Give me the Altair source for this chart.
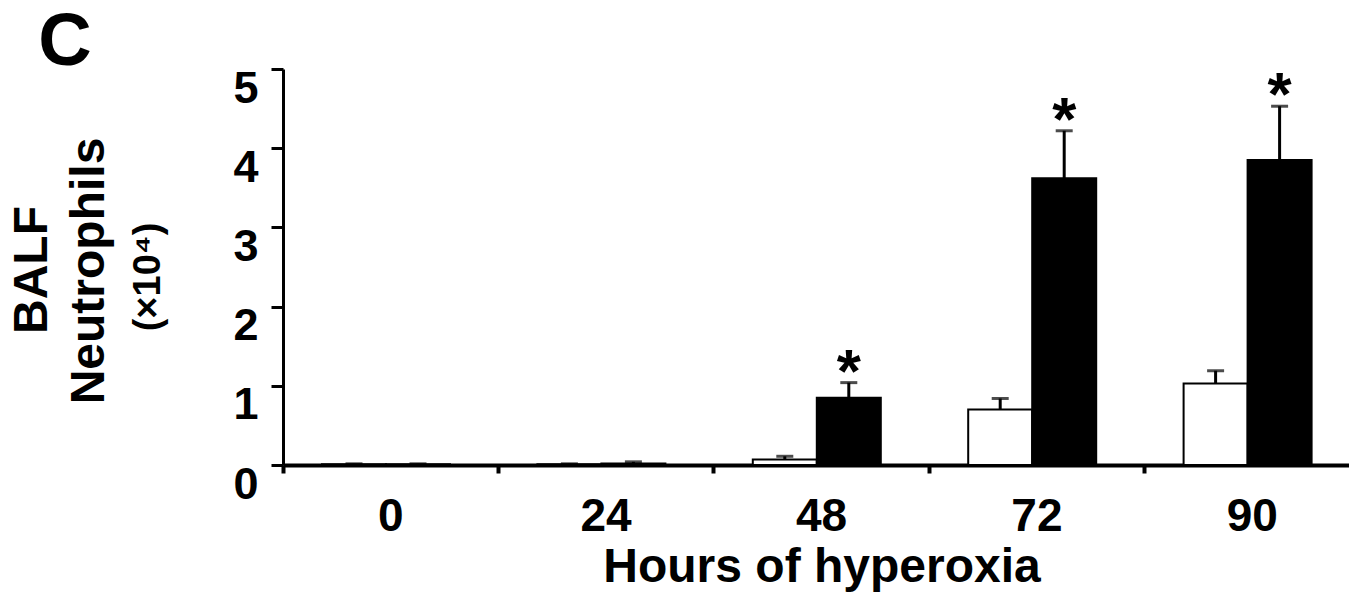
import altair as alt
import pandas as pd

# ---- data ----
hours = ["0", "24", "48", "72", "90"]
groups = ["white", "black"]
white_mean = [0.01, 0.01, 0.07, 0.70, 1.03]
white_err = [0.005, 0.005, 0.04, 0.14, 0.16]
black_mean = [0.01, 0.02, 0.85, 3.62, 3.85]
black_err = [0.005, 0.02, 0.19, 0.60, 0.68]
black_sig = [False, False, True, True, True]
y_ticks = [0, 1, 2, 3, 4, 5]

rows = []
for i, h in enumerate(hours):
    rows.append(dict(hour=h, group="white", mean=white_mean[i],
                     upper=white_mean[i] + white_err[i], sig=False))
    rows.append(dict(hour=h, group="black", mean=black_mean[i],
                     upper=black_mean[i] + black_err[i], sig=black_sig[i]))
df = pd.DataFrame(rows)

FONT = "Liberation Sans"
W, H = 1066, 396
XR = 1077

x_enc = alt.X(
    "hour:N", sort=hours,
    scale=alt.Scale(domain=hours, range=[0, XR], paddingInner=0, paddingOuter=0),
    axis=alt.Axis(
        title="Hours of hyperoxia", labelAngle=0, bandPosition=0,
        tickSize=8, tickWidth=4, tickColor="black", domainColor="black", domainWidth=4,
        labelFont=FONT, labelFontSize=46, labelFontWeight="bold", labelColor="black",
        labelPadding=21, labelBaseline="top",
        titleFont=FONT, titleFontSize=48, titleFontWeight="bold", titleColor="black",
        titleBaseline="alphabetic", titleY=116, grid=False,
    ),
)
xo_enc = alt.XOffset(
    "group:N", sort=groups,
    scale=alt.Scale(domain=groups, range=[39, 167], paddingInner=0, paddingOuter=0),
)
y_scale = alt.Scale(domain=[0, 5], nice=False, zero=True)
y_axis = alt.Axis(
    values=y_ticks, title=None, grid=False,
    tickSize=12, tickWidth=3, tickColor="black", domainColor="black", domainWidth=3,
    labelFont=FONT, labelFontSize=45, labelFontWeight="bold", labelColor="black",
    labelPadding=13, labelBaseline="top", labelOffset=-3,
)

base = alt.Chart(df)

bars = base.mark_bar(stroke="black", strokeWidth=2).encode(
    x=x_enc, xOffset=xo_enc,
    y=alt.Y("mean:Q", scale=y_scale, axis=y_axis),
    color=alt.Color("group:N", scale=alt.Scale(domain=groups, range=["white", "black"]), legend=None),
)
err = base.mark_rule(color="black", strokeWidth=3).encode(
    x=x_enc, xOffset=xo_enc,
    y=alt.Y("mean:Q", scale=y_scale, axis=y_axis), y2="upper:Q",
)
caps = base.mark_tick(orient="horizontal", size=17, thickness=3, color="black").encode(
    x=x_enc, xOffset=xo_enc,
    y=alt.Y("upper:Q", scale=y_scale, axis=y_axis),
)
stars = base.mark_text(
    text="*", font=FONT, fontSize=62, fontWeight="bold", baseline="alphabetic",
    dy=9, color="black",
).encode(
    x=x_enc, xOffset=xo_enc,
    y=alt.Y("upper:Q", scale=y_scale, axis=y_axis),
).transform_filter(alt.datum.sig == True)

def label(txt, x, y, size, angle=0):
    return alt.Chart(pd.DataFrame({"t": [txt]})).mark_text(
        font=FONT, fontSize=size, fontWeight="bold", color="black",
        align="center", baseline="middle", angle=angle,
    ).encode(x=alt.value(x), y=alt.value(y), text="t:N")

panel = label("C", -218, -26, 74)
t1 = label("BALF", -250, 201, 48, 270)
t2 = label("Neutrophils", -193, 202, 48, 270)
t3 = label("(×10⁴)", -134, 208, 38, 270)

chart = alt.layer(bars, err, caps, stars, panel, t1, t2, t3).properties(
    width=W, height=H,
    autosize=alt.AutoSizeParams(type="none"),
    padding={"left": 275, "top": 61, "right": 0, "bottom": 130},
    background="white",
).configure_view(stroke=None)

chart.save("out.html", embed_options={"renderer": "svg", "actions": False})
